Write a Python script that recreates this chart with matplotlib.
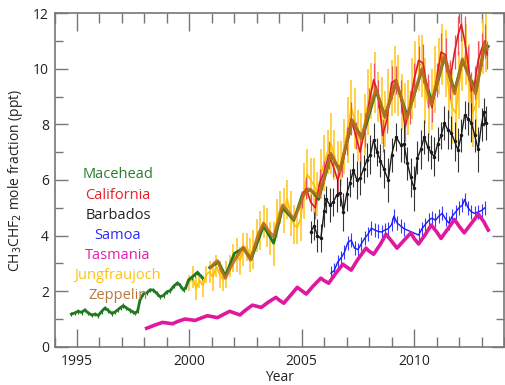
import numpy as np
import matplotlib
matplotlib.use("Agg")
import matplotlib.pyplot as plt
from matplotlib.ticker import MultipleLocator

plt.rcParams['font.family'] = ['Open Sans', 'DejaVu Sans']

# Mace Head (early record, visible)
mh_t = [1994.75, 1994.9, 1995.05, 1995.2, 1995.35, 1995.5, 1995.67, 1995.8, 1995.95, 1996.1,
        1996.25, 1996.4, 1996.56, 1996.7, 1996.84, 1996.95, 1997.06, 1997.2, 1997.37, 1997.5,
        1997.6, 1997.7, 1997.8, 1997.95, 1998.12, 1998.25, 1998.4, 1998.55, 1998.7, 1998.85,
        1999.0, 1999.15, 1999.3, 1999.47, 1999.6, 1999.74, 1999.85, 1999.96, 2000.1, 2000.25,
        2000.36, 2000.5, 2000.58]
mh_v = [1.18, 1.22, 1.28, 1.24, 1.33, 1.22, 1.14, 1.18, 1.13, 1.28,
        1.40, 1.30, 1.20, 1.26, 1.35, 1.42, 1.48, 1.40, 1.31, 1.25,
        1.21, 1.30, 1.68, 1.90, 1.95, 2.05, 2.04, 1.92, 1.80, 1.85,
        1.98, 2.02, 2.18, 2.30, 2.20, 2.04, 2.15, 2.40, 2.50, 2.60,
        2.68, 2.55, 2.48]
mh_e = 0.08
# Mace Head (later record, mostly hidden under Zeppelin)
mh2_t = [2000.9, 2001.3, 2001.6, 2002.0, 2002.4, 2002.75, 2003.3, 2003.75, 2004.15, 2004.65,
         2005.05, 2005.4, 2005.75, 2006.3, 2006.7, 2007.25, 2007.7, 2008.3, 2008.7, 2009.2,
         2009.7, 2010.35, 2010.8, 2011.35, 2011.8, 2012.15, 2012.75, 2013.15, 2013.3]
mh2_v = [2.85, 3.05, 2.55, 3.36, 3.55, 3.15, 4.35, 3.73, 5.0, 4.55,
         5.53, 5.65, 5.3, 6.9, 6.35, 8.1, 7.5, 9.2, 8.3, 9.5,
         8.3, 9.95, 8.8, 10.4, 9.2, 10.3, 9.2, 10.85, 10.8]

# California
ca_t = [2005.0, 2005.2, 2005.4, 2005.6, 2005.8, 2006.0, 2006.2, 2006.4, 2006.6, 2006.8,
        2007.0, 2007.2, 2007.4, 2007.6, 2007.8, 2008.0, 2008.2, 2008.4, 2008.6, 2008.8,
        2009.0, 2009.2, 2009.4, 2009.6, 2009.8, 2010.0, 2010.2, 2010.4, 2010.6, 2010.8,
        2011.0, 2011.2, 2011.4, 2011.6, 2011.8, 2011.95, 2012.1, 2012.25, 2012.4, 2012.55,
        2012.7, 2012.85, 2013.0, 2013.15, 2013.25]
ca_v = [5.3, 5.7, 5.2, 5.0, 5.9, 6.3, 6.9, 6.5, 6.0, 6.5,
        7.4, 8.2, 7.6, 7.0, 7.8, 8.8, 9.6, 9.1, 7.6, 8.2,
        9.5, 9.6, 9.0, 7.9, 8.6, 9.6, 10.3, 10.2, 9.2, 8.6,
        9.6, 10.6, 10.5, 9.6, 10.6, 11.2, 11.6, 11.0, 10.2, 9.2,
        9.5, 10.3, 10.7, 11.0, 10.5]
ca_e = [0.3, 0.4, 0.3, 0.4, 0.5, 0.4, 0.5, 0.4, 0.5, 0.4,
        0.5, 0.6, 0.5, 0.5, 0.6, 0.5, 0.6, 0.5, 0.6, 0.5,
        0.6, 0.5, 0.6, 0.5, 0.6, 0.6, 0.5, 0.7, 0.6, 0.5,
        0.6, 0.7, 0.6, 0.7, 0.6, 0.7, 0.6, 0.9, 0.6, 0.7,
        0.6, 0.7, 0.6, 0.6, 0.5]

# Barbados
bb_t = [2005.4, 2005.55, 2005.7, 2005.85, 2006.0, 2006.1, 2006.25, 2006.4, 2006.55, 2006.7,
        2006.85, 2007.0, 2007.15, 2007.3, 2007.45, 2007.6, 2007.75, 2007.9, 2008.05, 2008.2,
        2008.35, 2008.5, 2008.65, 2008.85, 2009.0, 2009.2, 2009.4, 2009.55, 2009.7, 2009.85,
        2010.0, 2010.15, 2010.3, 2010.45, 2010.6, 2010.75, 2010.9, 2011.05, 2011.2, 2011.35,
        2011.5, 2011.65, 2011.8, 2011.95, 2012.1, 2012.25, 2012.4, 2012.55, 2012.7, 2012.85,
        2013.0, 2013.1, 2013.2]
bb_v = [4.13, 4.35, 4.0, 3.9, 4.9, 5.3, 5.1, 5.2, 5.45, 5.55,
        4.85, 5.5, 5.9, 6.36, 6.0, 6.07, 6.4, 6.72, 6.9, 7.44,
        7.0, 6.7, 6.4, 6.0, 6.9, 7.55, 7.26, 7.3, 6.6, 6.1,
        5.7, 6.8, 7.1, 7.55, 7.2, 7.0, 6.83, 7.3, 7.6, 8.05,
        7.8, 7.7, 7.4, 7.08, 7.6, 8.34, 8.2, 8.05, 7.6, 7.1,
        8.0, 8.45, 8.05]
bb_e = [0.4, 0.5, 0.6, 0.5, 0.6, 0.5, 0.6, 0.5, 0.6, 0.5,
        0.7, 0.6, 0.5, 0.6, 0.7, 0.6, 0.5, 0.6, 0.7, 0.6,
        0.5, 0.6, 0.7, 0.8, 0.6, 0.5, 0.6, 0.7, 0.6, 0.7,
        0.8, 0.6, 0.7, 0.6, 0.5, 0.6, 0.7, 0.6, 0.5, 0.6,
        0.7, 0.6, 0.7, 0.8, 0.6, 0.5, 0.6, 0.7, 0.6, 0.8,
        0.6, 0.5, 0.6]

# Samoa
sm_t = [2006.3, 2006.45, 2006.6, 2006.75, 2006.9, 2007.05, 2007.2, 2007.35, 2007.5, 2007.65,
        2007.8, 2007.95, 2008.1, 2008.25, 2008.4, 2008.55, 2008.7, 2008.85, 2009.0, 2009.1,
        2009.25, 2009.4, 2009.55, 2010.2, 2010.35, 2010.5, 2010.65, 2010.8, 2010.95, 2011.1,
        2011.25, 2011.4, 2011.55, 2011.7, 2011.85, 2012.0, 2012.15, 2012.25, 2012.4, 2012.55,
        2012.7, 2012.85, 2013.0, 2013.15]
sm_v = [2.65, 2.75, 3.05, 3.2, 3.4, 3.75, 3.84, 3.55, 3.5, 3.7,
        3.9, 4.05, 4.27, 4.2, 4.15, 4.13, 4.2, 4.25, 4.4, 4.7,
        4.45, 4.35, 4.25, 4.02, 4.25, 4.4, 4.55, 4.63, 4.55, 4.7,
        4.8, 4.6, 4.45, 4.7, 4.85, 5.0, 5.1, 5.3, 5.0, 4.85,
        4.8, 4.85, 4.9, 5.0]
sm_e = 0.25

# Tasmania (Cape Grim)
ts_t = [1998.1, 1998.45, 1998.8, 1999.0, 1999.25, 1999.5, 1999.8, 2000.0, 2000.25, 2000.5,
        2000.8, 2001.0, 2001.25, 2001.5, 2001.8, 2002.0, 2002.25, 2002.5, 2002.8, 2003.0,
        2003.2, 2003.5, 2003.85, 2004.0, 2004.2, 2004.5, 2004.8, 2005.0, 2005.2, 2005.5,
        2005.85, 2006.0, 2006.2, 2006.5, 2006.83, 2007.0, 2007.2, 2007.5, 2007.86, 2008.0,
        2008.2, 2008.5, 2008.75, 2009.0, 2009.24, 2009.55, 2009.86, 2010.0, 2010.2, 2010.5,
        2010.76, 2011.0, 2011.2, 2011.5, 2011.8, 2012.0, 2012.23, 2012.55, 2012.86, 2013.1,
        2013.3]
ts_v = [0.67, 0.78, 0.88, 0.86, 0.83, 0.92, 1.0, 0.98, 0.95, 1.03,
        1.12, 1.09, 1.05, 1.16, 1.28, 1.22, 1.15, 1.32, 1.50, 1.46,
        1.42, 1.6, 1.78, 1.68, 1.57, 1.85, 2.14, 2.02, 1.90, 2.18,
        2.47, 2.38, 2.29, 2.63, 2.97, 2.87, 2.76, 3.15, 3.55, 3.44,
        3.33, 3.69, 4.05, 3.8, 3.55, 3.83, 4.1, 3.9, 3.7, 4.04,
        4.38, 4.14, 3.9, 4.24, 4.58, 4.34, 4.1, 4.44, 4.77, 4.5,
        4.2]

# Jungfraujoch
jf_t = [2000.0, 2000.15, 2000.3, 2000.45, 2000.6, 2000.75, 2000.9, 2001.05, 2001.2, 2001.35,
        2001.5, 2001.65, 2001.8, 2001.95, 2002.1, 2002.25, 2002.4, 2002.55, 2002.7, 2002.85,
        2003.0, 2003.15, 2003.3, 2003.45, 2003.6, 2003.75, 2003.9, 2004.05, 2004.2, 2004.35,
        2004.5, 2004.65, 2004.8, 2004.95, 2005.1, 2005.25, 2005.4, 2005.55, 2005.7, 2005.85,
        2006.0, 2006.15, 2006.3, 2006.45, 2006.6, 2006.75, 2006.9, 2007.05, 2007.2, 2007.35,
        2007.5, 2007.65, 2007.8, 2007.95, 2008.1, 2008.25, 2008.4, 2008.55, 2008.7, 2008.85,
        2009.0, 2009.15, 2009.3, 2009.45, 2009.6, 2009.75, 2009.9, 2010.05, 2010.2, 2010.35,
        2010.5, 2010.65, 2010.8, 2010.95, 2011.1, 2011.25, 2011.4, 2011.55, 2011.7, 2011.85,
        2012.0, 2012.15, 2012.3, 2012.45, 2012.6, 2012.75, 2012.9, 2013.05, 2013.2]
jf_v = [2.3, 2.5, 2.1, 2.4, 2.2, 2.6, 2.7, 2.5, 2.9, 2.6,
        2.4, 2.6, 2.9, 3.2, 3.3, 3.1, 3.5, 3.6, 3.3, 3.5,
        4.0, 4.2, 4.5, 4.3, 3.9, 3.7, 4.6, 5.0, 4.9, 5.3,
        4.8, 4.4, 4.3, 4.6, 5.6, 6.2, 6.0, 5.8, 5.5, 6.2,
        6.6, 7.0, 7.3, 6.9, 6.4, 6.6, 7.2, 7.8, 8.6, 8.2,
        7.6, 7.4, 8.0, 8.8, 9.2, 9.5, 9.0, 8.5, 8.2, 8.9,
        9.3, 9.6, 9.4, 8.8, 8.3, 8.6, 9.3, 9.8, 10.2, 10.1,
        9.2, 8.6, 8.9, 9.6, 10.1, 10.5, 10.2, 9.2, 8.6, 8.4,
        9.4, 10.2, 10.5, 9.6, 8.4, 8.7, 9.8, 10.8, 11.0]
jf_e = [0.3, 0.4, 0.4, 0.3, 0.4, 0.3, 0.4, 0.5, 0.4, 0.5,
        0.4, 0.5, 0.4, 0.5, 0.6, 0.5, 0.6, 0.5, 0.6, 0.7,
        0.6, 0.7, 0.6, 0.7, 0.6, 0.8, 0.7, 0.6, 0.8, 0.7,
        0.8, 0.7, 0.6, 0.8, 1.0, 0.9, 0.8, 1.0, 0.8, 0.9,
        1.0, 0.8, 1.1, 0.9, 1.0, 0.8, 1.0, 1.2, 1.0, 1.1,
        0.9, 1.0, 1.1, 1.2, 1.0, 1.1, 0.9, 1.2, 1.0, 1.1,
        1.0, 1.2, 1.1, 1.0, 1.2, 1.0, 1.1, 1.2, 1.0, 1.1,
        1.2, 1.0, 1.1, 1.2, 1.0, 1.1, 1.2, 1.0, 1.3, 1.1,
        1.2, 1.0, 1.1, 1.3, 1.2, 1.1, 1.2, 1.0, 1.1]

# Zeppelin
zp_t = [2000.95, 2001.1, 2001.25, 2001.45, 2001.6, 2001.8, 2002.0, 2002.2, 2002.4, 2002.55,
        2002.72, 2002.9, 2003.1, 2003.3, 2003.5, 2003.75, 2003.95, 2004.15, 2004.4, 2004.65,
        2004.85, 2005.05, 2005.3, 2005.55, 2005.76, 2006.0, 2006.3, 2006.5, 2006.7, 2006.95,
        2007.25, 2007.45, 2007.65, 2007.95, 2008.3, 2008.5, 2008.7, 2008.95, 2009.2, 2009.45,
        2009.68, 2010.0, 2010.35, 2010.55, 2010.76, 2011.05, 2011.34, 2011.55, 2011.8, 2012.0,
        2012.15, 2012.45, 2012.73, 2012.95, 2013.13, 2013.25]
zp_v = [2.85, 3.0, 3.10, 2.7, 2.47, 2.8, 3.1, 3.35, 3.59, 3.35,
        3.12, 3.6, 4.1, 4.44, 4.2, 3.95, 4.5, 5.1, 4.85, 4.6,
        4.95, 5.4, 5.68, 5.55, 5.4, 6.1, 6.96, 6.6, 6.3, 7.2,
        8.16, 7.8, 7.5, 8.4, 9.27, 8.8, 8.25, 8.9, 9.56, 8.9,
        8.2, 9.1, 10.0, 9.35, 8.7, 9.6, 10.45, 9.8, 9.1, 9.8,
        10.35, 9.7, 9.1, 10.0, 10.9, 10.7]

stations = ['Macehead', 'California', 'Barbados', 'Samoa', 'Tasmania', 'Jungfraujoch', 'Zeppelin']
text_colors = ['#2a7d2a', '#e8202a', '#222222', '#2a2aff', '#e020b0', '#ffc20e', '#b87a3c']

c_mh, c_ca, c_bb, c_sm, c_ts, c_jf, c_zp = ['#1f7a1f', '#e01b24', '#1a1a1a', '#1a1aff',
                                           '#e0189e', '#ffc000', '#b8701e']

fig = plt.figure(figsize=(5.05, 3.85), dpi=100)
ax = fig.add_axes([0.108, 0.099, 0.89, 0.867])

ax.errorbar(jf_t, jf_v, yerr=jf_e, fmt='-', color=c_jf, ecolor='#ffc82a', lw=1.2,
            elinewidth=1.2, zorder=2)
ax.plot(mh2_t, mh2_v, '-', color=c_mh, lw=2.0, zorder=3)
ax.errorbar(ca_t, ca_v, yerr=ca_e, fmt='-', color=c_ca, ecolor='#ee5560', lw=1.2,
            elinewidth=0.9, zorder=4)
ax.plot(zp_t, zp_v, '-', color=c_zp, lw=2.2, alpha=0.9, zorder=5)
ax.errorbar(mh_t, mh_v, yerr=mh_e, fmt='-', color=c_mh, ecolor=c_mh, lw=2.0,
            elinewidth=0.8, zorder=5)
ax.errorbar(bb_t, bb_v, yerr=bb_e, fmt='-', color=c_bb, ecolor='#333333', lw=1.0,
            elinewidth=0.8, marker='o', ms=1.5, zorder=6)
ax.errorbar(sm_t, sm_v, yerr=sm_e, fmt='-', color=c_sm, ecolor='#3a3aff', lw=1.0,
            elinewidth=0.8, zorder=6)
ax.plot(ts_t, ts_v, '-', color=c_ts, lw=2.6, zorder=7)

ax.set_xlim(1994, 2014)
ax.set_ylim(0, 12)
ax.xaxis.set_major_locator(MultipleLocator(5))
ax.xaxis.set_minor_locator(MultipleLocator(1))
ax.yaxis.set_major_locator(MultipleLocator(2))
ax.yaxis.set_minor_locator(MultipleLocator(1))
ax.tick_params(which='both', direction='in', top=True, right=True, color='#777777',
               labelsize=10, labelcolor='#222222', width=1.0)
ax.tick_params(axis='x', which='major', length=13, pad=5)
ax.tick_params(axis='x', which='minor', length=7)
ax.tick_params(axis='y', which='major', length=9, pad=4)
ax.tick_params(axis='y', which='minor', length=6)
for s in ax.spines.values():
    s.set_color('#777777')
    s.set_linewidth(1.2)

ax.set_xlabel('Year', fontsize=10, color='#222222', labelpad=1)
ax.set_ylabel('CH$_3$CHF$_2$ mole fraction (ppt)', fontsize=10, color='#222222', labelpad=6)

for i, (name, col) in enumerate(zip(stations, text_colors)):
    ax.text(1996.82, 6.18 - i * 0.72, name, color=col, fontsize=10.5, ha='center',
            va='center', zorder=10)

fig.savefig('out.png', dpi=100)
